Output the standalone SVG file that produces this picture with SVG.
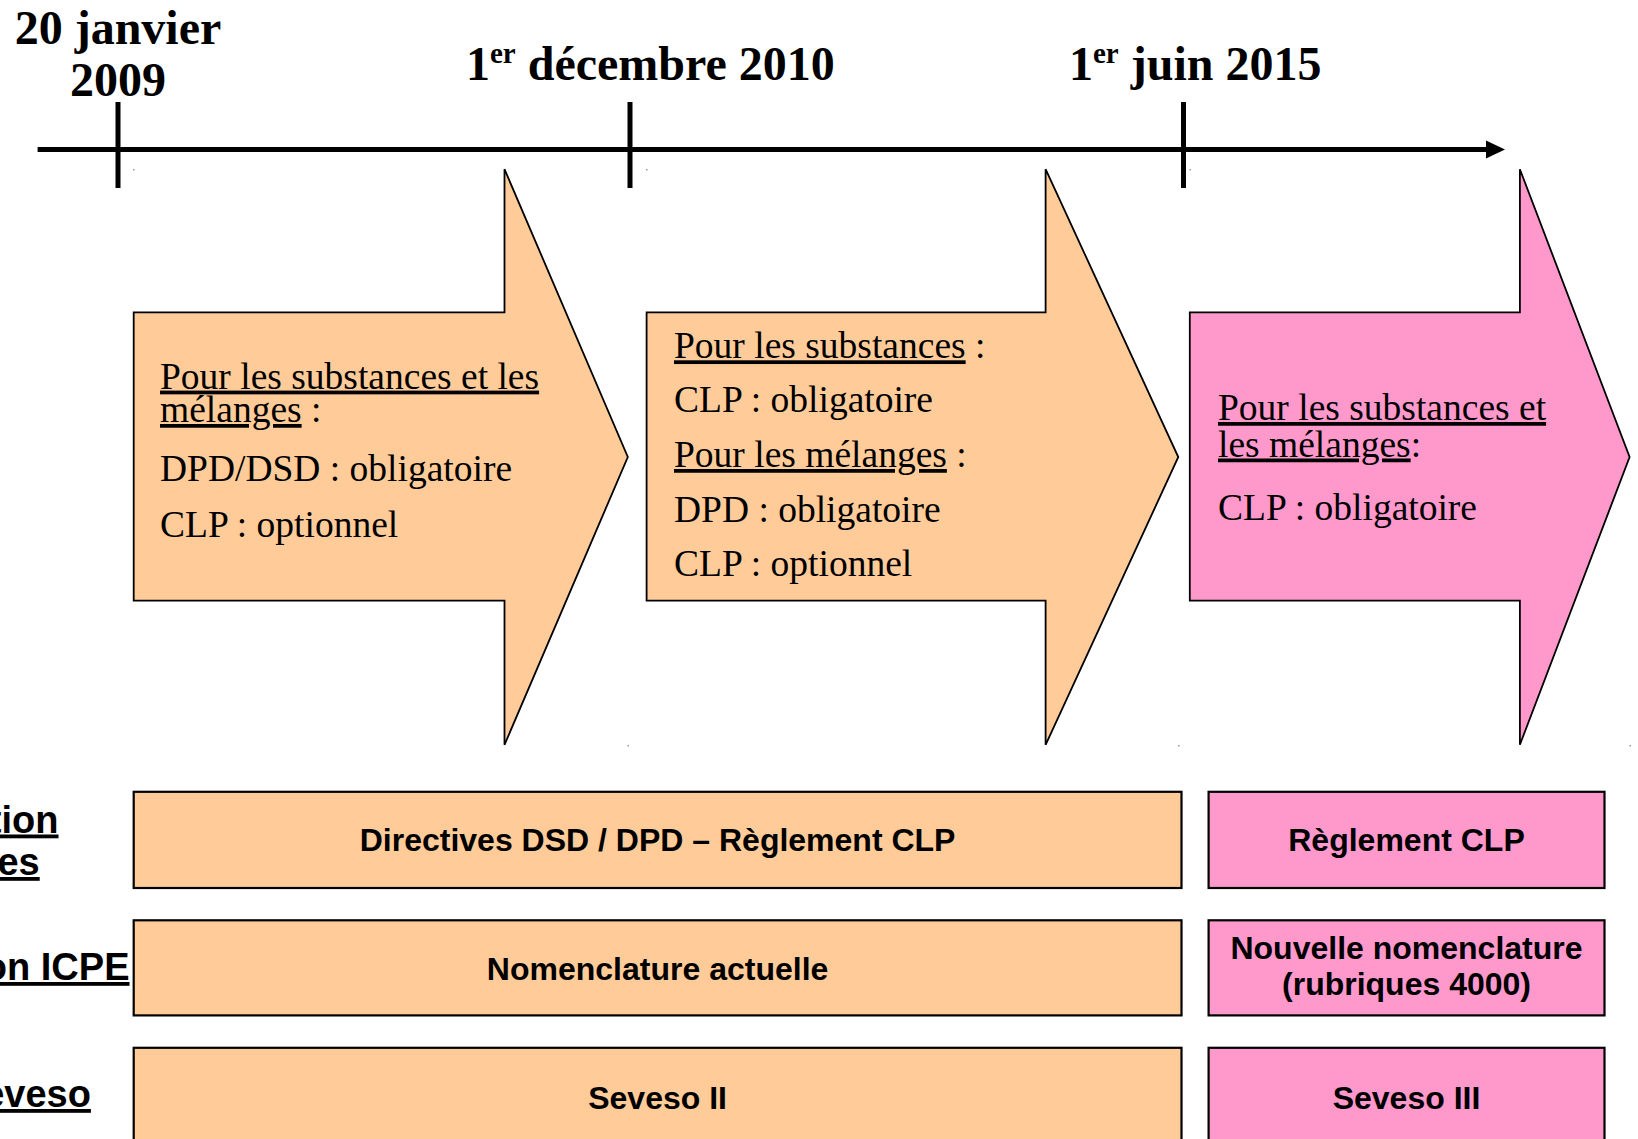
<svg xmlns="http://www.w3.org/2000/svg" width="1638" height="1139" viewBox="0 0 1638 1139">
<style>
.date{font-family:"Liberation Serif","Times New Roman",serif;font-weight:bold;font-size:48px;fill:#000}
.sup{font-size:29px}
.body{font-family:"Liberation Serif","Times New Roman",serif;font-size:37.5px;fill:#000}
.u{text-decoration:underline}
.box{stroke:#000;stroke-width:2.2}
.or{fill:#FFCC99}
.pk{fill:#FF99CC}
.arrow{stroke:#000;stroke-width:1.8;stroke-linejoin:miter}
.lbl{font-family:"Liberation Sans",Arial,sans-serif;font-weight:bold;font-size:32px;fill:#000;text-anchor:middle}
.side{font-family:"Liberation Sans",Arial,sans-serif;font-weight:bold;font-size:38px;fill:#000;text-anchor:end;text-decoration:underline}
.tick{stroke:#000;stroke-width:5}
.dot{fill:#999}
</style>

<g id="timeline">
  <line class="tick" x1="37.6" y1="149.5" x2="1490" y2="149.5"/>
  <polygon points="1486,140.5 1505,149.5 1486,158.5" fill="#000"/>
  <line class="tick" x1="118" y1="102" x2="118" y2="188"/>
  <line class="tick" x1="630" y1="102" x2="630" y2="188"/>
  <line class="tick" x1="1183.5" y1="102" x2="1183.5" y2="188"/>
</g>

<g id="dates">
  <text class="date" x="118" y="44" text-anchor="middle">20 janvier</text>
  <text class="date" x="118" y="96" text-anchor="middle">2009</text>
  <text class="date" x="466" y="80">1<tspan class="sup" dy="-17">er</tspan><tspan dy="17"> décembre 2010</tspan></text>
  <text class="date" x="1069" y="80">1<tspan class="sup" dy="-17">er</tspan><tspan dy="17"> juin 2015</tspan></text>
</g>

<g id="arrow1">
  <path class="arrow or" d="M133.7,312.3 H504.5 V169.2 L627.8,457 L504.5,744.8 V600.6 H133.7 Z"/>
  <text class="body" x="160" y="388.6"><tspan class="u">Pour les substances et les</tspan></text>
  <text class="body" x="160" y="422"><tspan class="u">mélanges</tspan> :</text>
  <text class="body" x="160" y="480.5">DPD/DSD : obligatoire</text>
  <text class="body" x="160" y="537">CLP : optionnel</text>
</g>

<g id="arrow2">
  <path class="arrow or" d="M646.6,312.3 H1045.6 V169.2 L1178.3,457 L1045.6,744.8 V600.6 H646.6 Z"/>
  <text class="body" x="674" y="358.3"><tspan class="u">Pour les substances</tspan> :</text>
  <text class="body" x="674" y="411.6">CLP : obligatoire</text>
  <text class="body" x="674" y="467"><tspan class="u">Pour les mélanges</tspan> :</text>
  <text class="body" x="674" y="522.3">DPD : obligatoire</text>
  <text class="body" x="674" y="575.6">CLP : optionnel</text>
</g>

<g id="arrow3">
  <path class="arrow pk" d="M1189.8,312.3 H1519.9 V169.2 L1629.6,457 L1519.9,744.8 V600.6 H1189.8 Z"/>
  <text class="body" x="1218" y="420"><tspan class="u">Pour les substances et</tspan></text>
  <text class="body" x="1218" y="456.5"><tspan class="u">les mélanges</tspan>:</text>
  <text class="body" x="1218" y="520">CLP : obligatoire</text>
</g>

<g id="dots">
  <rect class="dot" x="133" y="169" width="1.5" height="1.5"/>
  <rect class="dot" x="646" y="169" width="1.5" height="1.5"/>
  <rect class="dot" x="1189.5" y="169" width="1.5" height="1.5"/>
  <rect class="dot" x="627.5" y="745" width="1.5" height="1.5"/>
  <rect class="dot" x="1178" y="745" width="1.5" height="1.5"/>
  <rect class="dot" x="1629.5" y="745" width="1.5" height="1.5"/>
</g>

<g id="side-labels">
  <text class="side" x="58.5" y="832.5">tion</text>
  <text class="side" x="39.7" y="875">es</text>
  <text class="side" x="129.5" y="980">on ICPE</text>
  <text class="side" x="90.9" y="1107">eveso</text>
</g>

<g id="row1-old">
  <rect class="box or" x="133.7" y="791.8" width="1047.8" height="96.2"/>
  <text class="lbl" x="657.6" y="851">Directives DSD / DPD – Règlement CLP</text>
</g>
<g id="row1-new">
  <rect class="box pk" x="1208.6" y="791.8" width="395.9" height="96.2"/>
  <text class="lbl" x="1406.5" y="851">Règlement CLP</text>
</g>
<g id="row2-old">
  <rect class="box or" x="133.7" y="920.3" width="1047.8" height="95.1"/>
  <text class="lbl" x="657.6" y="979.5">Nomenclature actuelle</text>
</g>
<g id="row2-new">
  <rect class="box pk" x="1208.6" y="920.3" width="395.9" height="95.1"/>
  <text class="lbl" x="1406.5" y="958.5">Nouvelle nomenclature</text>
  <text class="lbl" x="1406.5" y="994.5">(rubriques 4000)</text>
</g>
<g id="row3-old">
  <rect class="box or" x="133.7" y="1047.8" width="1047.8" height="96"/>
  <text class="lbl" x="657.6" y="1109">Seveso II</text>
</g>
<g id="row3-new">
  <rect class="box pk" x="1208.6" y="1047.8" width="395.9" height="96"/>
  <text class="lbl" x="1406.5" y="1109">Seveso III</text>
</g>
</svg>
